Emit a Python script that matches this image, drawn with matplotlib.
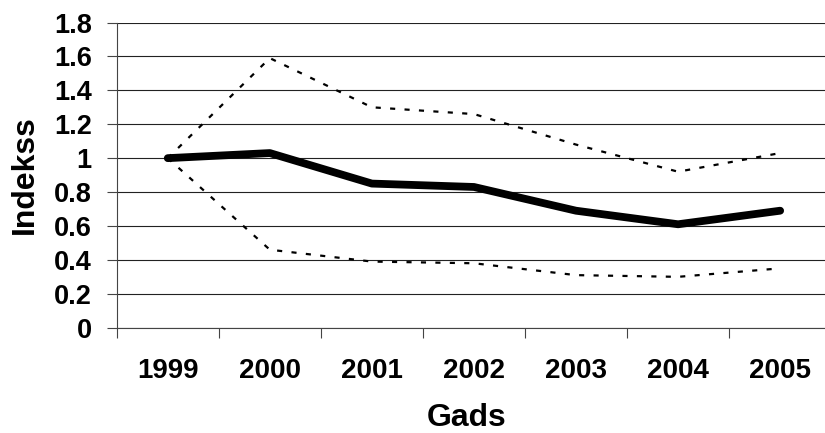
import matplotlib
matplotlib.use("Agg")
import matplotlib.pyplot as plt
import numpy as np

years = ["1999", "2000", "2001", "2002", "2003", "2004", "2005"]
main_index = [1.0, 1.03, 0.85, 0.83, 0.69, 0.61, 0.69]
upper_index = [1.0, 1.59, 1.30, 1.26, 1.08, 0.92, 1.03]
lower_index = [1.0, 0.46, 0.39, 0.38, 0.31, 0.30, 0.35]
yticks = [0, 0.2, 0.4, 0.6, 0.8, 1, 1.2, 1.4, 1.6, 1.8]
ytick_labels = ["0", "0.2", "0.4", "0.6", "0.8", "1", "1.2", "1.4", "1.6", "1.8"]

plt.rcParams['font.family'] = ['Liberation Sans', 'DejaVu Sans']

fig = plt.figure(figsize=(8.25, 4.33), dpi=100)
ax = fig.add_axes([0.1415, 0.2432, 0.866, 0.7048])

x = np.arange(len(years))
ax.plot(x, upper_index, color='black', lw=1.6, ls=(0, (2.3, 4.2)), zorder=3)
ax.plot(x, lower_index, color='black', lw=1.6, ls=(0, (2.3, 4.2)), zorder=3)
ax.plot(x, main_index, color='black', lw=5.6, solid_capstyle='round',
        solid_joinstyle='round', zorder=4)

ax.set_xlim(-0.5, len(years) - 0.5)
ax.set_ylim(0, 1.8)
ax.set_yticks(yticks)
ax.set_yticklabels(ytick_labels)
ax.set_xticks(x)
ax.set_xticklabels(years)
ax.set_xticks(np.arange(len(years) + 1) - 0.5, minor=True)

ax.yaxis.grid(True, color='#222222', lw=0.8)
ax.set_axisbelow(True)

for s in ['top', 'right']:
    ax.spines[s].set_visible(False)
for s in ['left', 'bottom']:
    ax.spines[s].set_color('#444444')
    ax.spines[s].set_linewidth(0.8)

ax.tick_params(axis='y', which='major', length=7, width=0.8, color='#444444',
               pad=11, labelsize=19.5)
ax.tick_params(axis='x', which='major', length=0, pad=22, labelsize=20)
ax.tick_params(axis='x', which='minor', length=7, width=0.8, color='#444444')
for lbl in ax.get_xticklabels() + ax.get_yticklabels():
    lbl.set_fontweight('bold')

fig.text(0.566, 0.016, "Gads", ha='center', va='baseline', fontsize=23, fontweight='bold')
fig.text(0.030, 0.596, "Indekss", ha='center', va='center', rotation=90,
         fontsize=23, fontweight='bold')

fig.savefig("out.png", dpi=100)
